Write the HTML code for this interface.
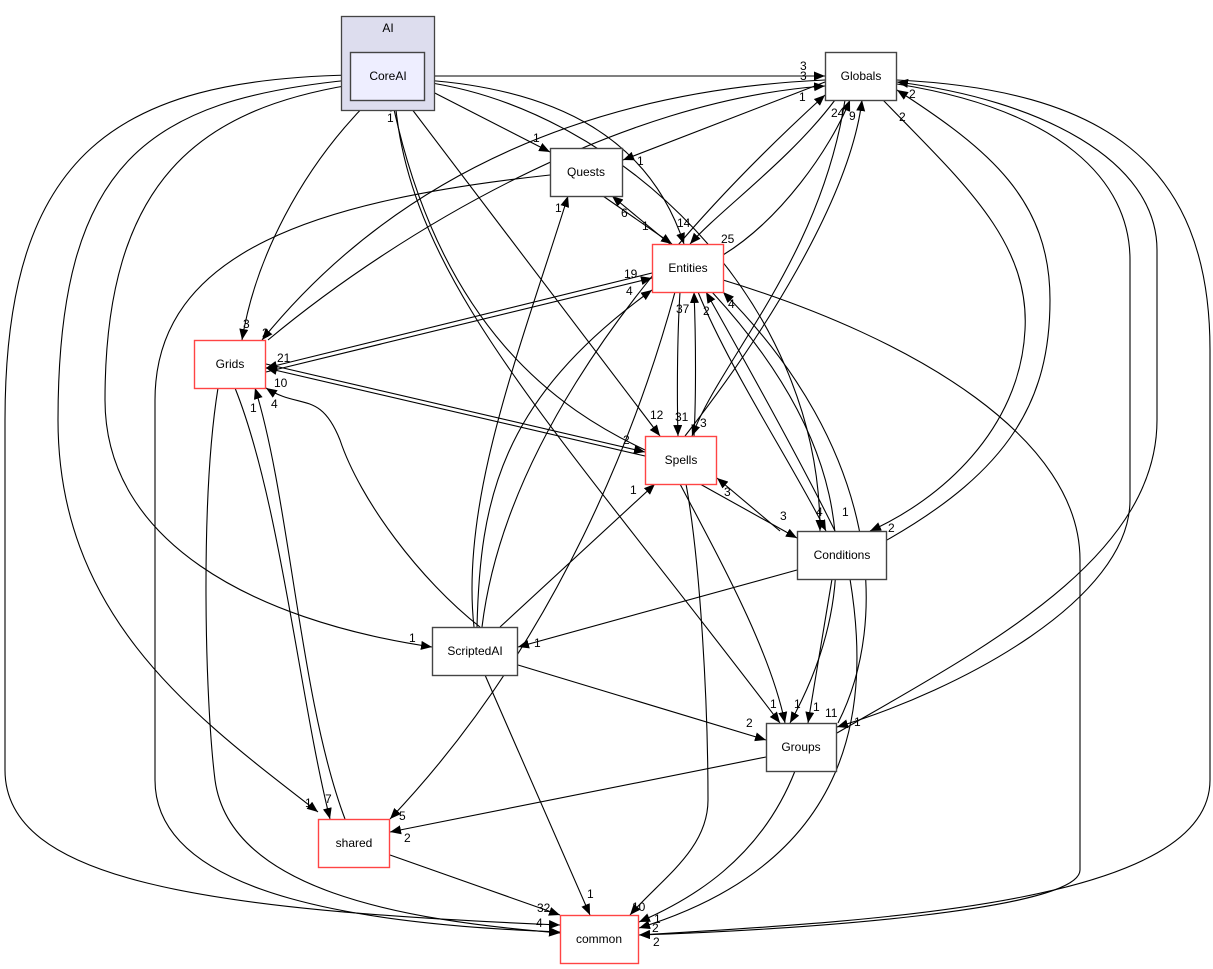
<!DOCTYPE html>
<html><head><meta charset="utf-8"><style>
html,body{margin:0;padding:0;background:#fff;width:1213px;height:969px;overflow:hidden}
svg text{font-family:"Liberation Sans","DejaVu Sans",sans-serif;font-size:12px;fill:#000}
.n{font-size:13px}
</style></head><body>
<svg width="1213" height="969" viewBox="0 0 1213 969" xmlns="http://www.w3.org/2000/svg">
<defs><marker id="a" markerUnits="userSpaceOnUse" markerWidth="12" markerHeight="10" refX="11" refY="4.5" orient="auto"><path d="M0,0 L11,4.5 L0,9 z" fill="#000"/></marker></defs>
<g fill="none" stroke="#000" stroke-width="1.1" marker-end="url(#a)">
<path d="M425,76 L825,76"/>
<path d="M425,88 L550,152"/>
<path d="M425,80 C560,90 650,140 684,244"/>
<path d="M425,82 C620,110 820,300 820,531"/>
<path d="M405,100 L660,436"/>
<path d="M645,450 C560,410 440,330 392,100"/>
<path d="M395,100 C410,280 550,420 780,723"/>
<path d="M370,100 C300,170 255,260 242,340"/>
<path d="M350,85 C200,110 105,180 105,400 C105,540 250,620 432,647"/>
<path d="M350,80 C150,100 58,160 58,420 C58,620 200,720 318,812"/>
<path d="M350,75 C120,80 5,150 5,420 L5,770 C5,880 200,910 560,925"/>
<path d="M825,82 L623,160"/>
<path d="M835,100 C790,160 720,210 690,244"/>
<path d="M723,255 C780,220 830,150 850,100"/>
<path d="M845,100 C820,260 720,360 692,436"/>
<path d="M685,436 C760,340 850,200 862,100"/>
<path d="M883,100 C960,180 1030,240 1025,330 C1020,430 940,500 870,531"/>
<path d="M887,540 C1010,470 1050,400 1050,300 C1050,200 990,150 897,90"/>
<path d="M897,84 C1060,110 1130,180 1130,260 L1130,500 C1130,600 960,690 837,727"/>
<path d="M837,733 C980,650 1157,560 1157,420 L1157,250 C1157,160 1040,100 897,82"/>
<path d="M897,80 C1100,90 1210,160 1210,350 L1210,780 C1210,900 900,920 639,935"/>
<path d="M825,80 C600,90 400,170 262,340"/>
<path d="M268,340 C400,230 620,100 825,86"/>
<path d="M603,196 L672,244"/>
<path d="M670,244 L612,196"/>
<path d="M550,175 C320,200 155,250 155,400 L155,780 C155,900 380,925 560,932"/>
<path d="M266,372 L652,278"/>
<path d="M652,273 L266,368"/>
<path d="M680,292 C677,340 677,400 678,436"/>
<path d="M694,436 C696,400 696,340 694,292"/>
<path d="M698,292 C730,370 790,460 826,531"/>
<path d="M835,531 C800,460 750,370 706,292"/>
<path d="M675,292 C640,420 560,640 390,819"/>
<path d="M723,280 C920,340 1080,440 1080,560 L1080,870 C1080,910 800,930 639,935"/>
<path d="M838,723 C890,620 880,450 723,292"/>
<path d="M712,292 C830,420 880,560 790,723"/>
<path d="M266,364 L645,452"/>
<path d="M645,456 L266,368"/>
<path d="M474,627 C460,500 520,350 568,196"/>
<path d="M480,627 C420,580 360,500 340,440 C320,390 300,410 266,388"/>
<path d="M500,627 L655,484"/>
<path d="M477,627 C480,500 500,400 652,290"/>
<path d="M482,627 C500,480 600,300 825,95"/>
<path d="M518,665 L766,740"/>
<path d="M485,675 L590,915"/>
<path d="M797,570 L518,647"/>
<path d="M780,531 L717,478"/>
<path d="M700,484 L797,538"/>
<path d="M832,579 L808,723"/>
<path d="M850,579 C870,700 860,860 639,928"/>
<path d="M680,484 C720,560 770,650 785,723"/>
<path d="M686,484 C700,560 708,700 708,800 C708,850 660,880 630,915"/>
<path d="M235,388 C280,500 300,700 330,819"/>
<path d="M345,819 C300,700 290,500 255,388"/>
<path d="M218,388 C200,500 205,700 215,780 C230,890 400,920 560,933"/>
<path d="M766,757 L390,832"/>
<path d="M795,771 C760,860 690,900 639,922"/>
<path d="M390,855 L560,915"/>
</g>
<rect x="341.5" y="16.5" width="93" height="94" fill="#ddddee" stroke="#444" stroke-width="1.3"/>
<text x="388" y="32" text-anchor="middle">AI</text>
<g stroke-width="1.4">
<rect x="350.5" y="52.5" width="74" height="48" fill="#eeeeff" stroke="#444"/>
<rect x="825.5" y="52.5" width="71" height="48" fill="#fff" stroke="#444"/>
<rect x="550.5" y="148.5" width="72" height="48" fill="#fff" stroke="#444"/>
<rect x="652.5" y="244.5" width="71" height="48" fill="#fff" stroke="#ff4444"/>
<rect x="194.5" y="340.5" width="71" height="48" fill="#fff" stroke="#ff4444"/>
<rect x="645.5" y="436.5" width="71" height="48" fill="#fff" stroke="#ff4444"/>
<rect x="797.5" y="531.5" width="89" height="48" fill="#fff" stroke="#444"/>
<rect x="432.5" y="627.5" width="85" height="48" fill="#fff" stroke="#444"/>
<rect x="766.5" y="723.5" width="70" height="48" fill="#fff" stroke="#444"/>
<rect x="318.5" y="819.5" width="71" height="48" fill="#fff" stroke="#ff4444"/>
<rect x="560.5" y="915.5" width="78" height="48" fill="#fff" stroke="#ff4444"/>
</g>
<g class="n" text-anchor="middle">
<text x="388" y="80">CoreAI</text>
<text x="861" y="80">Globals</text>
<text x="586" y="176">Quests</text>
<text x="688" y="272">Entities</text>
<text x="230" y="368">Grids</text>
<text x="681" y="464">Spells</text>
<text x="842" y="559">Conditions</text>
<text x="475" y="655">ScriptedAI</text>
<text x="801" y="751">Groups</text>
<text x="354" y="847">shared</text>
<text x="599" y="943">common</text>
</g>
<g>
<text x="800" y="70">3</text><text x="800" y="80">3</text><text x="799" y="101">1</text>
<text x="533" y="142">1</text><text x="637" y="165">1</text><text x="387" y="122">1</text>
<text x="677" y="227">14</text><text x="721" y="243">25</text><text x="831" y="117">24</text><text x="849" y="120">9</text>
<text x="909" y="98">2</text><text x="899" y="121">2</text>
<text x="555" y="212">1</text><text x="621" y="217">6</text><text x="642" y="230">1</text>
<text x="624" y="278">19</text><text x="626" y="295">4</text>
<text x="676" y="313">37</text><text x="703" y="315">2</text><text x="728" y="308">4</text>
<text x="243" y="328">3</text><text x="262" y="337">2</text><text x="277" y="362">21</text><text x="274" y="387">10</text>
<text x="250" y="412">1</text><text x="271" y="408">4</text>
<text x="650" y="419">12</text><text x="675" y="421">31</text><text x="700" y="427">3</text>
<text x="623" y="444">2</text><text x="630" y="494">1</text><text x="724" y="496">3</text>
<text x="780" y="520">3</text><text x="816" y="516">4</text><text x="842" y="516">1</text><text x="888" y="532">2</text>
<text x="409" y="642">1</text><text x="534" y="647">1</text>
<text x="770" y="708">1</text><text x="794" y="708">1</text><text x="813" y="711">1</text><text x="825" y="717">11</text><text x="854" y="726">1</text>
<text x="746" y="727">2</text>
<text x="305" y="807">1</text><text x="325" y="803">7</text><text x="399" y="820">5</text><text x="404" y="842">2</text>
<text x="587" y="898">1</text><text x="537" y="912">32</text><text x="536" y="927">4</text>
<text x="632" y="911">10</text><text x="654" y="923">1</text><text x="652" y="932">2</text><text x="653" y="946">2</text>
</g>
</svg>
</body></html>
